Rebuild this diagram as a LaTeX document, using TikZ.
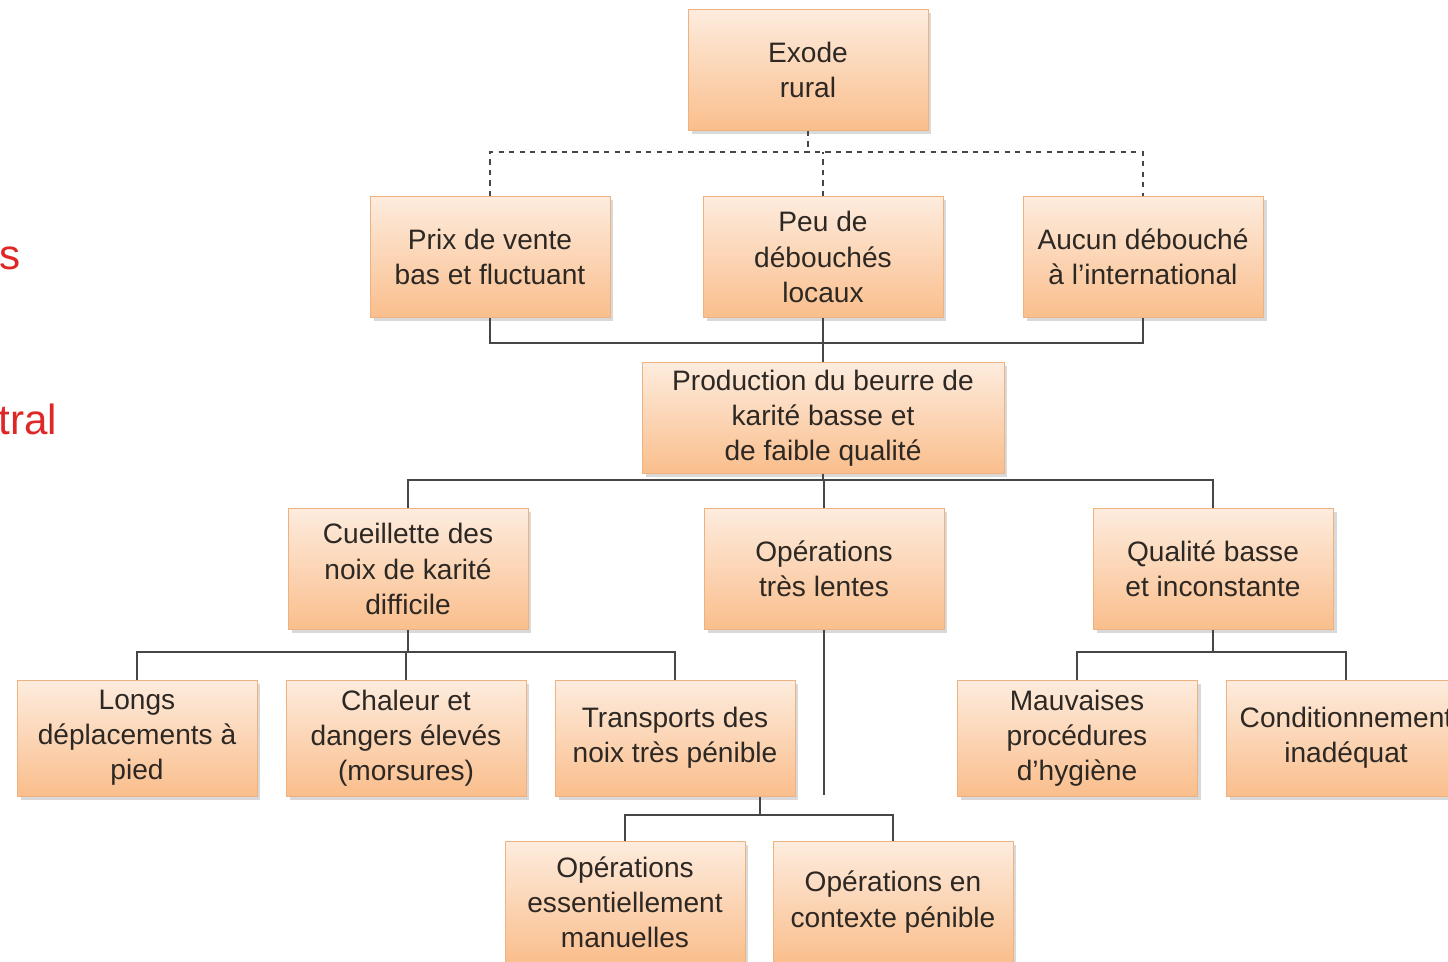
\documentclass[tikz,border=0pt]{standalone}
\usepackage{fontspec}
\setmainfont{Liberation Sans}
\usepackage{xcolor}
\usetikzlibrary{positioning, shadows}

\definecolor{boxtop}{RGB}{253,236,222}
\definecolor{boxbot}{RGB}{250,190,140}
\definecolor{boxline}{RGB}{238,178,128}
\definecolor{txtgray}{RGB}{45,40,35}
\definecolor{linkgray}{RGB}{70,70,70}
\definecolor{slidered}{RGB}{222,40,40}

\begin{document}
\begin{tikzpicture}[
    x=0.02cm, y=-0.02cm,
    cause/.style={rectangle, draw=boxline, top color=boxtop, bottom color=boxbot,
        minimum width=4.8cm, minimum height=2.42cm, inner sep=2pt, align=center,
        text=txtgray, font=\fontsize{16}{20}\selectfont,
        drop shadow={shadow xshift=2pt, shadow yshift=-2pt, opacity=0.3}},
    lowcause/.style={cause, minimum height=2.32cm},
    link/.style={draw=linkgray, line width=0.9pt},
    dlink/.style={link, dashed}
]
\useasboundingbox (0,0) rectangle (1448,962);

% restes du texte de la diapositive
\node[anchor=base west, inner sep=0pt, text=slidered, font=\fontsize{24}{28}\selectfont] (resteS) at (-1,270) {s};
\node[anchor=base west, inner sep=0pt, text=slidered, font=\fontsize{24}{28}\selectfont] (resteT) at (-2,435) {tral};

% Niveau 1
\node[cause] (exode) at (808,70) {Exode\\rural};

% Niveau 2
\node[cause] (prix) at (490,257) {Prix de vente\\bas et fluctuant};
\node[cause] (peu) at (823,257) {Peu de\\débouchés\\locaux};
\node[cause] (aucun) at (1143,257) {Aucun débouché\\à l'international};

% Niveau 3
\node[cause, minimum width=7.24cm, minimum height=2.22cm] (prod) at (823,418) {Production du beurre de\\karité basse et\\de faible qualité};

% Niveau 4
\node[cause] (cueil) at (408,569) {Cueillette des\\noix de karité\\difficile};
\node[cause] (lentes) at (824,569) {Opérations\\très lentes};
\node[cause] (qualite) at (1213,569) {Qualité basse\\et inconstante};

% Niveau 5
\node[lowcause] (longs) at (137,738) {Longs\\déplacements à\\pied};
\node[lowcause] (chaleur) at (406,738) {Chaleur et\\dangers élevés\\(morsures)};
\node[lowcause] (transp) at (675,738) {Transports des\\noix très pénible};
\node[lowcause] (hygiene) at (1077,738) {Mauvaises\\procédures\\d'hygiène};
\node[lowcause] (condi) at (1346,738) {Conditionnement\\inadéquat};

% Niveau 6
\node[cause] (manuel) at (625,902) {Opérations\\essentiellement\\manuelles};
\node[cause] (penible) at (893,902) {Opérations en\\contexte pénible};

% Liens en pointillés vers l'exode
\draw[dlink] (exode.south) -- (808,152);
\draw[dlink] (prix.north) |- (823,152) -| (aucun.north);
\draw[dlink] (peu.north) -- (823,152);

% Liens vers la production
\draw[link] (prix.south) |- (823,343) -| (aucun.south);
\draw[link] (peu.south) -- (prod.north);

% Liens sous la production
\draw[link] (prod.south) -- (823,480);
\draw[link] (cueil.north) |- (823,480) -| (qualite.north);
\draw[link] (lentes.north) -- (lentes.north |- 0,480);

% Cueillette
\draw[link] (cueil.south) -- (408,652);
\draw[link] (longs.north) |- (408,652) -| (transp.north);
\draw[link] (chaleur.north) -- (406,652);

% Qualite
\draw[link] (qualite.south) -- (1213,652);
\draw[link] (hygiene.north) |- (1213,652) -| (condi.north);

% Operations tres lentes
\coordinate (lentesbas) at (824,795);
\coordinate (opsplit) at (760,797);
\draw[link] (lentes.south) -- (lentesbas);
\draw[link] (opsplit) -- (760,815);
\draw[link] (manuel.north) |- (760,815) -| (penible.north);

\end{tikzpicture}
\end{document}
